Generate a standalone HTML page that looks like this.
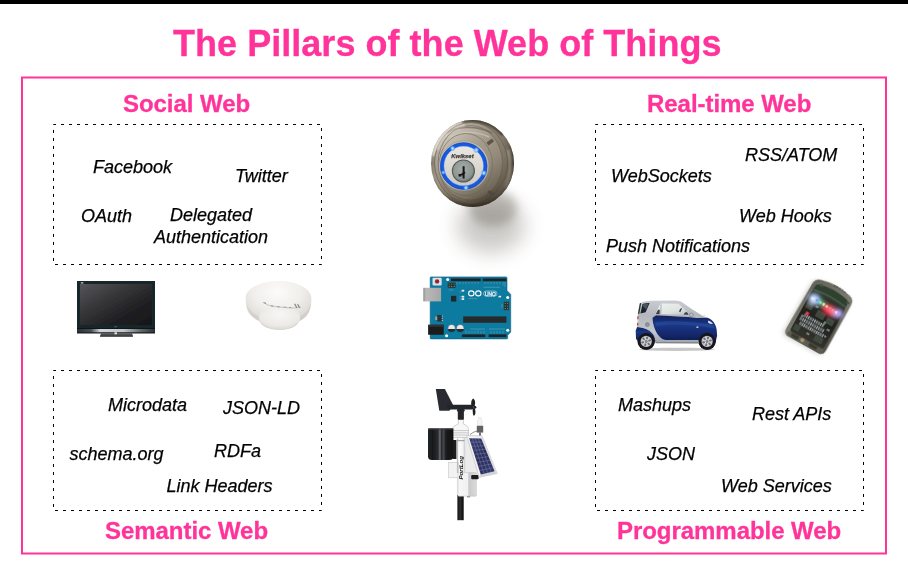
<!DOCTYPE html>
<html>
<head>
<meta charset="utf-8">
<title>The Pillars of the Web of Things</title>
<style>
html,body{margin:0;padding:0;background:#fff;}
body{width:908px;height:576px;position:relative;overflow:hidden;font-family:"Liberation Sans",sans-serif;}
#bar{position:absolute;left:0;top:0;width:908px;height:4px;background:#000;}
.pink{color:#ff3399;font-weight:bold;position:absolute;white-space:nowrap;-webkit-text-stroke:0.3px #ff3399;}
#title{font-size:36px;left:173px;top:23px;line-height:42px;letter-spacing:0.035px;}
.h{font-size:24px;line-height:28px;letter-spacing:-0.05px;}
.t{position:absolute;white-space:nowrap;font-style:italic;font-size:18px;line-height:20px;color:#000;-webkit-text-stroke:0.25px #000;}
svg{position:absolute;left:0;top:0;}
#txt{position:absolute;left:0;top:0;width:908px;height:576px;will-change:transform;opacity:0.999;}
</style>
</head>
<body>
<div id="bar"></div>
<svg id="frame" width="908" height="576" viewBox="0 0 908 576">
  <rect x="22" y="77.5" width="864" height="476" fill="none" stroke="#ff3399" stroke-width="2"/>
  <g fill="none" stroke="#000" stroke-width="1" stroke-dasharray="3 5" stroke-dashoffset="0.5">
    <rect x="53.5" y="124.5" width="268" height="140"/>
    <rect x="595.5" y="124.5" width="268" height="140"/>
    <rect x="53.5" y="370.5" width="268" height="140"/>
    <rect x="595.5" y="370.5" width="268" height="140"/>
  </g>
</svg>

<svg id="pics" width="908" height="576" viewBox="0 0 908 576">
<defs>
  <filter id="b04" x="-10%" y="-10%" width="120%" height="120%"><feGaussianBlur stdDeviation="0.45"/></filter>
  <filter id="b07" x="-10%" y="-10%" width="120%" height="120%"><feGaussianBlur stdDeviation="0.7"/></filter>
  <clipPath id="lkClip"><ellipse cx="472.5" cy="163.5" rx="41.5" ry="43.5"/></clipPath>
  <filter id="b12" x="-30%" y="-30%" width="160%" height="160%"><feGaussianBlur stdDeviation="1.3"/></filter>
  <filter id="b2" x="-30%" y="-30%" width="160%" height="160%"><feGaussianBlur stdDeviation="2"/></filter>
  <filter id="b10" x="-60%" y="-60%" width="220%" height="220%"><feGaussianBlur stdDeviation="10"/></filter>
  <filter id="b5" x="-50%" y="-50%" width="200%" height="200%"><feGaussianBlur stdDeviation="5"/></filter>
  <filter id="b8" x="-50%" y="-50%" width="200%" height="200%"><feGaussianBlur stdDeviation="8"/></filter>
  <linearGradient id="lkBody" x1="0" y1="0" x2="1" y2="0">
    <stop offset="0" stop-color="#7f7667"/><stop offset="0.1" stop-color="#aca393"/>
    <stop offset="0.3" stop-color="#9b9282"/><stop offset="0.6" stop-color="#a39a8a"/>
    <stop offset="0.82" stop-color="#857c6c"/><stop offset="1" stop-color="#453d30"/>
  </linearGradient>
  <linearGradient id="lkBody2" x1="0" y1="0" x2="0" y2="1">
    <stop offset="0" stop-color="#443c30" stop-opacity="0.9"/><stop offset="0.1" stop-color="#8b8272" stop-opacity="0.3"/>
    <stop offset="0.5" stop-color="#fff" stop-opacity="0"/><stop offset="0.85" stop-color="#6b6253" stop-opacity="0.35"/>
    <stop offset="1" stop-color="#2e281e" stop-opacity="0.95"/>
  </linearGradient>
  <linearGradient id="lkRing2" x1="0" y1="0" x2="1" y2="1">
    <stop offset="0" stop-color="#cfc8ba"/><stop offset="0.45" stop-color="#8f8676"/><stop offset="1" stop-color="#675e50"/>
  </linearGradient>
  <linearGradient id="lkRing3" x1="0" y1="0" x2="1" y2="1">
    <stop offset="0" stop-color="#dad4c8"/><stop offset="0.45" stop-color="#a39a8a"/><stop offset="1" stop-color="#786f60"/>
  </linearGradient>
  <linearGradient id="lkShade" x1="0.2" y1="0" x2="0.6" y2="1">
    <stop offset="0" stop-color="#fff" stop-opacity="0.1"/><stop offset="0.55" stop-color="#6b6253" stop-opacity="0"/>
    <stop offset="0.85" stop-color="#4a4234" stop-opacity="0.35"/><stop offset="1" stop-color="#2a241a" stop-opacity="0.7"/>
  </linearGradient>
  <linearGradient id="lkFace" x1="0" y1="0" x2="0" y2="1">
    <stop offset="0" stop-color="#ebe8e3"/><stop offset="1" stop-color="#cdc9c2"/>
  </linearGradient>
  <radialGradient id="lkCyl" cx="0.45" cy="0.4" r="0.6">
    <stop offset="0" stop-color="#a5ada9"/><stop offset="0.8" stop-color="#8d9591"/><stop offset="1" stop-color="#666d69"/>
  </radialGradient>
  <radialGradient id="glow" cx="0.5" cy="0.5" r="0.5">
    <stop offset="0" stop-color="#e6f6ff"/><stop offset="0.4" stop-color="#7cc4ff" stop-opacity="0.9"/><stop offset="1" stop-color="#2a7bff" stop-opacity="0"/>
  </radialGradient>

  <linearGradient id="tvScreen" x1="0" y1="0" x2="1" y2="1">
    <stop offset="0" stop-color="#55565a"/><stop offset="0.35" stop-color="#38383b"/><stop offset="0.7" stop-color="#1f1f22"/><stop offset="1" stop-color="#161618"/>
  </linearGradient>
  <linearGradient id="tvBar" x1="0" y1="0" x2="1" y2="0">
    <stop offset="0" stop-color="#2a2f33"/><stop offset="0.18" stop-color="#4a4f52"/><stop offset="0.3" stop-color="#d4d6d8"/>
    <stop offset="0.6" stop-color="#c2c4c6"/><stop offset="0.8" stop-color="#6a6e70"/><stop offset="1" stop-color="#2a2f33"/>
  </linearGradient>
  <radialGradient id="sdTop" cx="0.48" cy="0.22" r="0.8">
    <stop offset="0" stop-color="#fcfbfa"/><stop offset="0.45" stop-color="#f1efec"/><stop offset="0.75" stop-color="#e0dcd8"/><stop offset="1" stop-color="#cdc9c4"/>
  </radialGradient>
  <linearGradient id="sdSide" x1="0" y1="0" x2="1" y2="0">
    <stop offset="0" stop-color="#cfcbc6"/><stop offset="0.25" stop-color="#e4e1dd"/><stop offset="0.7" stop-color="#efedea"/><stop offset="1" stop-color="#dcd8d4"/>
  </linearGradient>
  <radialGradient id="sdDisc" cx="0.5" cy="0.35" r="0.7">
    <stop offset="0" stop-color="#f7f6f4"/><stop offset="0.7" stop-color="#eceae7"/><stop offset="1" stop-color="#d6d2ce"/>
  </radialGradient>

  <linearGradient id="usb" x1="0" y1="0" x2="1" y2="0">
    <stop offset="0" stop-color="#8e8e8e"/><stop offset="0.15" stop-color="#b9b9b9"/><stop offset="1" stop-color="#a6a6a6"/>
  </linearGradient>
  <linearGradient id="capG" x1="0" y1="0" x2="0" y2="1">
    <stop offset="0" stop-color="#f4f4f4"/><stop offset="0.6" stop-color="#e2e2e2"/><stop offset="0.62" stop-color="#2a2a2a"/><stop offset="1" stop-color="#2a2a2a"/>
  </linearGradient>

  <linearGradient id="carSilver" x1="0" y1="0" x2="0" y2="1">
    <stop offset="0" stop-color="#c9ccd1"/><stop offset="0.35" stop-color="#b4b8be"/><stop offset="0.75" stop-color="#c4c7cc"/><stop offset="1" stop-color="#9ea2a9"/>
  </linearGradient>
  <linearGradient id="carBlue" x1="0" y1="0" x2="0" y2="1">
    <stop offset="0" stop-color="#13245c"/><stop offset="0.35" stop-color="#1b3684"/><stop offset="0.6" stop-color="#162c74"/><stop offset="1" stop-color="#0c1a48"/>
  </linearGradient>
  <linearGradient id="carWin" x1="0" y1="0" x2="1" y2="1">
    <stop offset="0" stop-color="#eef1ef"/><stop offset="0.6" stop-color="#dfe4e1"/><stop offset="1" stop-color="#b9c0bf"/>
  </linearGradient>
  <radialGradient id="rim" cx="0.5" cy="0.5" r="0.5">
    <stop offset="0" stop-color="#8e9096"/><stop offset="0.22" stop-color="#9b9da3"/><stop offset="0.3" stop-color="#d9dbdf"/><stop offset="0.9" stop-color="#c3c5ca"/><stop offset="1" stop-color="#8d8f95"/>
  </radialGradient>

  <linearGradient id="phBody" x1="0" y1="0" x2="1" y2="1">
    <stop offset="0" stop-color="#5f6056"/><stop offset="0.5" stop-color="#7d7b70"/><stop offset="1" stop-color="#4b4a41"/>
  </linearGradient>
  <linearGradient id="phInner" x1="0" y1="0" x2="0" y2="1">
    <stop offset="0" stop-color="#2b3029"/><stop offset="0.5" stop-color="#1f211e"/><stop offset="1" stop-color="#35352e"/>
  </linearGradient>

  <linearGradient id="wsBucket" x1="0" y1="0" x2="1" y2="0">
    <stop offset="0" stop-color="#232427"/><stop offset="0.18" stop-color="#17181a"/><stop offset="0.4" stop-color="#2c2d31"/>
    <stop offset="0.47" stop-color="#6d7076"/><stop offset="0.53" stop-color="#2a2b2f"/><stop offset="0.62" stop-color="#45474c"/>
    <stop offset="0.7" stop-color="#1b1c1f"/><stop offset="1" stop-color="#0f1012"/>
  </linearGradient>
  <linearGradient id="wsWhite" x1="0" y1="0" x2="1" y2="0">
    <stop offset="0" stop-color="#e3e3e3"/><stop offset="0.3" stop-color="#fbfbfb"/><stop offset="0.7" stop-color="#f3f3f3"/><stop offset="1" stop-color="#cfcfcf"/>
  </linearGradient>
  <linearGradient id="wsBox" x1="0" y1="0" x2="1" y2="0">
    <stop offset="0" stop-color="#f7f7f7"/><stop offset="0.55" stop-color="#f0f0f0"/><stop offset="0.58" stop-color="#c9c9c9"/><stop offset="1" stop-color="#dadada"/>
  </linearGradient>
  <linearGradient id="wsPole" x1="0" y1="0" x2="1" y2="0">
    <stop offset="0" stop-color="#111"/><stop offset="0.4" stop-color="#2e2e30"/><stop offset="1" stop-color="#0c0c0c"/>
  </linearGradient>
  <linearGradient id="wsCell" x1="0" y1="0" x2="1" y2="1">
    <stop offset="0" stop-color="#3a3f6e"/><stop offset="0.5" stop-color="#2a2e5a"/><stop offset="1" stop-color="#353a70"/>
  </linearGradient>
</defs>

<!-- ============ door lock ============ -->
<g id="lock">
  <ellipse cx="491" cy="226" rx="34" ry="27" fill="#3a3228" opacity="0.25" filter="url(#b10)"/>
  <ellipse cx="493" cy="208" rx="24" ry="18" fill="#3a3228" opacity="0.26" filter="url(#b5)"/>
  <g filter="url(#b04)">
    <ellipse cx="472.5" cy="163.5" rx="41.5" ry="43.5" fill="url(#lkBody)"/>
    <ellipse cx="472.5" cy="163.5" rx="41.5" ry="43.5" fill="url(#lkBody2)"/>
    <!-- highlights / rims -->
    <g clip-path="url(#lkClip)"><g filter="url(#b12)">
      <path d="M433 156 C436 140 447 127 462 122" fill="none" stroke="#e9e4da" stroke-width="4" opacity="0.8"/>
      <path d="M448 120.5 C466 116 490 120 503 135" fill="none" stroke="#3a3226" stroke-width="3" opacity="0.85"/>
      <path d="M512 146 C517.5 162 516 182 507 195 C500 204 489 209 474 209" fill="none" stroke="#2a241a" stroke-width="3" opacity="0.85"/>
      <path d="M508 150 C511 162 510.5 176 505.5 188" fill="none" stroke="#b9b1a2" stroke-width="2.5" opacity="0.7"/>
      <path d="M433 180 C440 197 455 206 472 208" fill="none" stroke="#4f4739" stroke-width="2.5" opacity="0.6"/>
    </g></g>
    <!-- ring bands -->
    <ellipse cx="471.1" cy="163" rx="36.5" ry="40.4" fill="url(#lkRing2)"/>
    <ellipse cx="471.1" cy="163" rx="36.5" ry="40.4" fill="none" stroke="#5f5749" stroke-width="0.9" opacity="0.75"/>
    <ellipse cx="470.3" cy="162.8" rx="32.1" ry="37.3" fill="url(#lkRing3)"/>
    <ellipse cx="470.3" cy="162.8" rx="32.1" ry="37.3" fill="none" stroke="#6a6152" stroke-width="0.9" opacity="0.75"/>
    <!-- top dark/light alternation -->
    <g clip-path="url(#lkClip)" filter="url(#b07)">
      <path d="M447 133 C455 126.5 476 124.5 492 133" fill="none" stroke="#6f6657" stroke-width="1.6" opacity="0.8"/>
      <path d="M449 138 C457 131.5 475 130 489 137" fill="none" stroke="#d2ccbf" stroke-width="1.4" opacity="0.7"/>
      <path d="M452 198 C462 203 480 203 492 195" fill="none" stroke="#6f6657" stroke-width="1.4" opacity="0.7"/>
    </g>
    <ellipse cx="465.8" cy="164.5" rx="26.6" ry="31" fill="#b1a999"/>
    <ellipse cx="465.8" cy="164.5" rx="26.6" ry="31" fill="url(#lkRing3)" opacity="0.8"/>
    <ellipse cx="465.8" cy="164.5" rx="26.6" ry="31" fill="none" stroke="#736a5b" stroke-width="0.9" opacity="0.75"/>
    <circle cx="463.9" cy="166" r="25" fill="#cbc5b9"/>
    <circle cx="463.9" cy="166" r="25" fill="none" stroke="#8f8677" stroke-width="0.6" opacity="0.7"/>
    <ellipse cx="472.5" cy="163.5" rx="41.5" ry="43.5" fill="url(#lkShade)"/>
    <g clip-path="url(#lkClip)"><path d="M437 150 C441 137 451 128 465 125" fill="none" stroke="#f1ede4" stroke-width="3" opacity="0.55" filter="url(#b12)"/></g>
    <!-- dark marks on right of body -->
    <path d="M486.5 142.5 l5.5 -4 l2 3 l-5.5 4z M489 190 l5.5 3 l-1.8 3 l-5.5 -3z" fill="#4f473a" opacity="0.8"/>
    <!-- blue ring -->
    <circle cx="463.7" cy="166" r="21.6" fill="url(#lkFace)" stroke="#1658de" stroke-width="3.8"/>
    <circle cx="463.7" cy="166" r="23.4" fill="none" stroke="#0b3596" stroke-width="0.7" opacity="0.6"/>
    <circle cx="463.7" cy="166" r="19.9" fill="none" stroke="#6aa4ff" stroke-width="0.5" opacity="0.7"/>
    <circle cx="452.5" cy="148.3" r="3.2" fill="url(#glow)"/>
    <circle cx="476.3" cy="150" r="3.4" fill="url(#glow)"/>
    <circle cx="483.8" cy="173" r="3.4" fill="url(#glow)"/>
    <circle cx="466" cy="187.8" r="3.2" fill="url(#glow)"/>
    <circle cx="443.2" cy="172.5" r="2.6" fill="url(#glow)" opacity="0.8"/>
    <!-- cylinder -->
    <circle cx="463.4" cy="171" r="11" fill="url(#lkCyl)" stroke="#555b57" stroke-width="1.1"/>
    <path d="M462.6 166.3 h2 v5.2 l0.9 1.2 l-0.9 1.3 v4.6 h-2 v-3 l-1.2 -0.6 v1.6 h-2.8 v-2.6 h2.4 l1.6 -1.3z" fill="#141618"/>
    <text x="451.3" y="157.6" font-family="Liberation Sans, sans-serif" font-size="5.6" font-weight="bold" font-style="italic" fill="#3f3d3a" stroke="#3f3d3a" stroke-width="0.25" textLength="22.3" lengthAdjust="spacingAndGlyphs">Kwikset</text>
  </g>
</g>

<!-- ============ TV ============ -->
<g id="tv" filter="url(#b04)">
  <rect x="77" y="281" width="78" height="52.3" fill="#14252b"/>
  <rect x="80" y="284" width="72" height="41" fill="url(#tvScreen)"/>
  <rect x="77" y="328.8" width="78" height="3.8" fill="url(#tvBar)"/>
  <rect x="77" y="328" width="78" height="0.9" fill="#0c1418"/>
  <rect x="77" y="332.4" width="78" height="0.9" fill="#1a1f22"/>
  <path d="M101 333.3 h31 l1 3.2 h-33z" fill="#4d5052"/>
  <rect x="100" y="335.6" width="33" height="1" fill="#2c2e30"/>
  <rect x="114.5" y="332.3" width="2.4" height="2" fill="#e8e8e8"/>
  <rect x="80.8" y="282.3" width="2.6" height="1.2" fill="#cfd6d8"/>
  <rect x="114.3" y="326.3" width="2.6" height="0.9" fill="#5a6a70"/>
</g>

<!-- ============ smoke detector ============ -->
<g id="smoke" filter="url(#b04)">
  <path d="M245.7 297.5 C246 289 260 281.1 278.5 281.1 C297 281.1 311 289 311.3 297.5 C311.5 303 311 306 310.2 309 C309 313 307 315.5 305.8 316.7 C303 319 301 320 299.2 321 C297 327 289 329.8 279.6 329.8 C270 329.8 262 327 259.3 321 C257 320 254 318.5 252.2 316.7 C249 314 247.3 311 246.7 307.9 C246 304 245.7 300 245.7 297.5z" fill="url(#sdTop)"/>
  <!-- lower slope shading -->
  <path d="M246.2 303 C247 311 253 318 260 321.5 C258 314 266 307 279.6 306.5 C293 307 301 314 299.2 321.5 C306 318 310.5 311 311 303 C309 311 302 316 296 318 L263 318 C256 316 249 311 246.2 303z" fill="#c9c5c0" opacity="0.5" filter="url(#b07)"/>
  <!-- lower disc -->
  <ellipse cx="279.6" cy="317.8" rx="20.6" ry="11.8" fill="url(#sdDisc)"/>
  <!-- vents -->
  <path d="M263.5 302.4 l2.6 1.1" stroke="#8b8884" stroke-width="1.1" fill="none"/>
  <path d="M270.8 305.8 l2.4 0.4 M277 306.6 l2.6 0.3 M283.8 307.2 l2.6 0.2 M289.2 307.5 l2 0.1" stroke="#7d7a77" stroke-width="1" fill="none"/>
  <path d="M266 304.6 C272 306 280 307.3 288 307.8 C292 308 297 308 301 307.2" fill="none" stroke="#bcb8b4" stroke-width="0.8"/>
  <path d="M294.6 303.8 l2.2 4 M297.6 304.2 l2 3.6" stroke="#7f7c79" stroke-width="1.1" fill="none"/>
</g>

<!-- ============ Arduino ============ -->
<g id="arduino" filter="url(#b04)">
  <path d="M431 276.9 H506 Q507 276.9 507 277.9 V290.5 L510.7 294.4 V332 L507.7 335.3 V338 Q507.7 338.9 506.7 338.9 H431 Q430.2 338.9 430.2 338 V277.7 Q430.2 276.9 431 276.9z" fill="#107a9f"/>
  <path d="M431 276.9 H506 Q507 276.9 507 277.9 V290.5 L510.7 294.4 V332 L507.7 335.3 V338 Q507.7 338.9 506.7 338.9 H431 Q430.2 338.9 430.2 338 V277.7 Q430.2 276.9 431 276.9z" fill="none" stroke="#155f7c" stroke-width="0.6"/>
  <!-- reset button -->
  <rect x="432.5" y="277.8" width="9.2" height="7.6" rx="1" fill="#d3e3ea"/>
  <circle cx="437.1" cy="281.4" r="2.2" fill="#a81f26"/>
  <!-- usb -->
  <rect x="423.3" y="287.8" width="17.8" height="13.6" fill="url(#usb)"/>
  <!-- power jack -->
  <rect x="428.1" y="324.8" width="15.6" height="10" rx="0.6" fill="#1d1d1f"/>
  <rect x="428.1" y="324.8" width="15.6" height="2" fill="#333336"/>
  <!-- headers -->
  <rect x="451" y="278.5" width="29.7" height="2.7" fill="#1c2226"/>
  <rect x="482.6" y="278.5" width="23.8" height="2.7" fill="#1c2226"/>
  <rect x="461.9" y="334.4" width="23.4" height="2.7" fill="#1c2226"/>
  <rect x="488.6" y="334.4" width="17.8" height="2.7" fill="#1c2226"/>
  <!-- icsp -->
  <rect x="447.7" y="282.6" width="7.9" height="5.2" fill="#23343a"/>
  <g fill="#9a8a44"><circle cx="449.2" cy="284" r="0.6"/><circle cx="451.7" cy="284" r="0.6"/><circle cx="454.2" cy="284" r="0.6"/><circle cx="449.2" cy="286.4" r="0.6"/><circle cx="451.7" cy="286.4" r="0.6"/><circle cx="454.2" cy="286.4" r="0.6"/></g>
  <rect x="503.8" y="301.8" width="5.2" height="8.4" fill="#23343a"/>
  <g fill="#9a8a44"><circle cx="505.2" cy="303.3" r="0.6"/><circle cx="507.6" cy="303.3" r="0.6"/><circle cx="505.2" cy="306" r="0.6"/><circle cx="507.6" cy="306" r="0.6"/><circle cx="505.2" cy="308.7" r="0.6"/><circle cx="507.6" cy="308.7" r="0.6"/></g>
  <!-- chips -->
  <rect x="451" y="295.8" width="5.3" height="5.8" fill="#22282c"/>
  <rect x="463.2" y="316.4" width="43.2" height="6.4" fill="#26292c"/>
  <rect x="437.2" y="315" width="4.6" height="6.6" fill="#2b3136"/>
  <rect x="435.2" y="316.6" width="2" height="3.4" fill="#9aa3a6"/>
  <g fill="#b9c9cf"><rect x="441.8" y="315.6" width="1.2" height="0.9"/><rect x="441.8" y="317.8" width="1.2" height="0.9"/><rect x="441.8" y="320" width="1.2" height="0.9"/></g>
  <!-- capacitors -->
  <circle cx="451.6" cy="328.3" r="3.8" fill="url(#capG)" stroke="#0f4d66" stroke-width="0.5"/>
  <circle cx="460.2" cy="328.3" r="3.8" fill="url(#capG)" stroke="#0f4d66" stroke-width="0.5"/>
  <!-- mount holes -->
  <g fill="#fff"><circle cx="447.7" cy="279.6" r="1.5"/><circle cx="507.7" cy="297.4" r="1.5"/><circle cx="507.7" cy="330.3" r="1.5"/><circle cx="446.6" cy="335.8" r="1.5"/></g>
  <!-- logo -->
  <g fill="none" stroke="#fff">
    <ellipse cx="471.3" cy="293.4" rx="2.7" ry="2.5" stroke-width="1.1"/>
    <ellipse cx="478.3" cy="293.4" rx="2.7" ry="2.5" stroke-width="1.1"/>
    <rect x="483.6" y="291" width="13.4" height="5.2" rx="2.6" stroke-width="0.5" opacity="0.9"/>
  </g>
  <text x="484.9" y="295.5" font-family="Liberation Sans, sans-serif" font-size="4.8" fill="none" stroke="#fff" stroke-width="0.35" textLength="10.8" lengthAdjust="spacingAndGlyphs">UNO</text>
  <!-- LEDs + silk -->
  <g fill="#e6f0f2"><rect x="461.6" y="289.8" width="2.6" height="1.8"/><rect x="461.6" y="295.8" width="2.6" height="1.8"/><rect x="461.6" y="298.2" width="2.6" height="1.8"/><rect x="498.5" y="295.8" width="2.6" height="1.6"/></g>
  <g stroke="#7fb7cb" stroke-width="0.5" fill="none" opacity="0.85">
    <path d="M483.5 287.3 H500 M459.5 292 h2 M459.5 296.6 h2 M459.5 299 h2"/>
    <path d="M457 282 v2.6 M460 282 v2 M463 282 v2 M466 282 v2 M469 282 v2 M472 282 v2 M475 282 v2 M478 282 v2 M485 282 v2 M488 282 v2 M491 282 v2 M494 282 v2 M497 282 v2 M500 282 v2 M503 282 v3.5 M505 282 v5"/>
    <path d="M466 330 v3.5 M469 331 v2.5 M472 331 v2.5 M475 331 v2.5 M478 330 v3.5 M481 331 v2.5 M484 331 v2.5 M491 331 v2.5 M494 331 v2.5 M497 331 v2.5 M500 331 v2.5 M503 331 v2.5"/>
    <path d="M470 329 H485 M489 329 H505"/>
    <path d="M468.3 298.6 h9 M449 290 h4.5 M502 304 v4"/>
  </g>
</g>

<!-- ============ smart car ============ -->
<g id="car">
  <ellipse cx="677" cy="349.3" rx="38" ry="1.6" fill="#9a9a9a" opacity="0.55" filter="url(#b07)"/>
  <g filter="url(#b04)">
  <!-- wheel arches dark -->
  <circle cx="646.2" cy="341" r="8.8" fill="#15171c"/>
  <circle cx="707.1" cy="341" r="8.8" fill="#15171c"/>
  <path d="M639.9 302.9 C643.5 301.5 647.7 300.9 650.8 300.8 L674.8 300.5 C677.9 300.6 680.5 301.3 682.1 302.3 L692.5 309.6 L702.9 316.1 L707.6 318.0 L696.7 318.2 L688.4 317.1 L656.1 315.4 L652.4 317.8 C652.7 324.2 655.0 331.5 658.7 335.7 C661.3 338.8 663.3 339.9 666.0 340.1 L697.7 340.1 L699.3 343.0 L655.5 342.8 L654.0 335.7 C650.8 330.5 645.6 327.9 637.1 327.1 C636.9 323.2 637.3 318.0 637.8 314.8 C638.3 309.6 638.9 305.5 639.9 302.9Z" fill="url(#carSilver)"/>
  <path d="M656.1 315.3 L688.4 317.1 L696.7 318.0 L707.6 317.8 C710.8 318.8 713.4 321.3 714.9 324.2 C716.0 326.3 716.5 328.4 716.7 330.0 L717.1 335.7 L716.1 340.1 L715.7 343.0 L714.6 339.9 C713.4 335.7 710.2 333.6 707.1 333.6 C703.5 333.6 700.0 335.7 698.8 340.1 L666.0 340.1 C663.3 339.9 661.3 338.8 658.7 335.7 C655.0 331.5 652.7 324.2 652.4 317.8 Z" fill="url(#carBlue)"/>
  <path d="M637.1 327.1 C645.6 327.9 650.8 330.5 654.0 335.7 L655.5 341.4 L654.8 341.4 C653.4 335.7 650.3 333.4 646.2 333.4 C642.0 333.4 638.9 335.7 637.5 340.9 L636.0 338.8 L635.7 330.5 Z" fill="url(#carBlue)"/>
  <!-- door highlight -->
  <path d="M655 322 C670 320.5 695 321.5 713 325 L714.5 328.5 C697 324.5 672 323.5 655.8 326z" fill="#2f52ac" opacity="0.5" filter="url(#b07)"/>
  <!-- windows -->
  <path d="M655.5 314.0 L660.2 304.1 C661.3 303.7 663.3 303.6 665.4 303.6 L678.5 303.8 L689.2 314.0 L688.4 314.8 Z" fill="url(#carWin)"/>
  <path d="M640.4 313.4 L642.5 304.1 C644.6 303.4 647.2 303.1 649.6 303.1 L645.6 312.3 Z" fill="#1c232d"/>
  <path d="M642.3 305.5 L643 304.3 L648.6 303.6 L646 309.5z" fill="#59626e" opacity="0.8"/>
  <path d="M639.9 303.2 L641.2 303 L639.4 313.5 L637.9 314.2z" fill="#2a2f38"/>
  <!-- B pillar + interior -->
  <path d="M660.6 304.3 L661.6 304.2 L661.3 314.3 L660 314.3z" fill="#aeb3b8"/>
  <path d="M679 311.5 q1.2 -3 2.4 -3.4 l0.6 0.6 q-1 1 -1.6 3.6z M683.5 314.5 q1 -2.6 3 -2.6 l1.6 1.6 l0.2 1.2z M655.8 314 L658.2 309.5 L659.8 310 L659.6 314.2z" fill="#3b4046"/>
  <!-- mirror -->
  <path d="M689.3 315 q0.2 -2 2.2 -2 q1.8 0.2 1.8 2.4 q-0.6 1.6 -2.4 1.4 q-1.4 -0.2 -1.6 -1.8z" fill="#b9bdc3" stroke="#55595f" stroke-width="0.4"/>
  <!-- headlight, marker, handle -->
  <path d="M708.2 320.6 q3 0.6 4.8 3.4 q-2.6 0.4 -5 -1.6z" fill="#dfe6ee"/>
  <rect x="696.3" y="326.6" width="2.2" height="1.2" rx="0.5" fill="#e6e9ee"/>
  <path d="M702 315.4 l2.6 -1 l1.2 1.2 l-1.6 1z" fill="#e8e6d8"/>
  <!-- fuel cap -->
  <circle cx="647.3" cy="324.6" r="2" fill="#8f949b" stroke="#6b7078" stroke-width="0.5"/>
  <!-- tail lights -->
  <rect x="637.2" y="316.5" width="1.5" height="2.2" fill="#c4473f"/>
  <rect x="637" y="320" width="1.5" height="2" fill="#e9e3df"/>
  <rect x="636.9" y="323.2" width="1.5" height="2.2" fill="#c4473f"/>
  <!-- sill shadow -->
  <path d="M655.5 342.2 L699 342.4 L698.8 343.4 L655.6 343.2z" fill="#6c7077"/>
  <circle cx="646.2" cy="341.4" r="8.3" fill="#18181b"/>
  <circle cx="646.2" cy="341.4" r="5.7" fill="url(#rim)"/><ellipse cx="648.7" cy="343.9" rx="1.0" ry="1.5" transform="rotate(135 648.7 343.9)" fill="#6f7178"/><ellipse cx="645.3" cy="344.8" rx="1.0" ry="1.5" transform="rotate(195 645.3 344.8)" fill="#6f7178"/><ellipse cx="642.8" cy="342.3" rx="1.0" ry="1.5" transform="rotate(255 642.8 342.3)" fill="#6f7178"/><ellipse cx="643.7" cy="338.9" rx="1.0" ry="1.5" transform="rotate(315 643.7 338.9)" fill="#6f7178"/><ellipse cx="647.1" cy="338.0" rx="1.0" ry="1.5" transform="rotate(375 647.1 338.0)" fill="#6f7178"/><ellipse cx="649.6" cy="340.5" rx="1.0" ry="1.5" transform="rotate(435 649.6 340.5)" fill="#6f7178"/>
  <circle cx="646.2" cy="341.4" r="1.3" fill="#85878d"/>
  <circle cx="707.1" cy="341.4" r="8.3" fill="#18181b"/>
  <circle cx="707.1" cy="341.4" r="5.7" fill="url(#rim)"/><ellipse cx="709.6" cy="343.9" rx="1.0" ry="1.5" transform="rotate(135 709.6 343.9)" fill="#6f7178"/><ellipse cx="706.2" cy="344.8" rx="1.0" ry="1.5" transform="rotate(195 706.2 344.8)" fill="#6f7178"/><ellipse cx="703.7" cy="342.3" rx="1.0" ry="1.5" transform="rotate(255 703.7 342.3)" fill="#6f7178"/><ellipse cx="704.6" cy="338.9" rx="1.0" ry="1.5" transform="rotate(315 704.6 338.9)" fill="#6f7178"/><ellipse cx="708.0" cy="338.0" rx="1.0" ry="1.5" transform="rotate(375 708.0 338.0)" fill="#6f7178"/><ellipse cx="710.5" cy="340.5" rx="1.0" ry="1.5" transform="rotate(435 710.5 340.5)" fill="#6f7178"/>
  <circle cx="707.1" cy="341.4" r="1.3" fill="#85878d"/>
  </g>
</g>

<!-- ============ LED gadget ============ -->
<g id="gadget" transform="translate(818.85 317) rotate(29)">
  <path d="M-22 -26 Q-22 -32 -16 -33.5 Q0 -38.5 17 -33.5 Q22.5 -32 22.5 -26 L22.5 26 Q22.5 32 16.5 32 L-17 32 Q-23 32 -23 26Z" fill="#8a8a86" opacity="0.35" filter="url(#b2)" transform="translate(-1.5 1.5)"/>
  <g filter="url(#b07)">
    <path d="M-22 -26 Q-22 -32 -16 -33.5 Q0 -38.5 17 -33.5 Q22.5 -32 22.5 -26 L22.5 26 Q22.5 32 16.5 32 L-17 32 Q-23 32 -23 26Z" fill="url(#phBody)"/>
    <path d="M-18.5 -24 Q-18.5 -28 -14.5 -29 Q0 -32.6 15.5 -29 Q19 -28 19 -24 L19 -18 L-18.5 -18Z" fill="#2f3f2f"/>
    <path d="M-18 -21.5 Q0 -25 19 -21.5" fill="none" stroke="#59665a" stroke-width="1.6" opacity="0.7"/>
    <rect x="-19" y="-20.5" width="38.5" height="47.5" rx="4" fill="url(#phInner)"/>
    <rect x="-20" y="26.2" width="41" height="5" rx="2" fill="#5c5b50"/>
    <!-- bottom details -->
    <rect x="-15.5" y="26.8" width="8" height="3.6" rx="0.8" fill="#3a3a33"/>
    <rect x="4.5" y="26.8" width="9" height="3.6" rx="0.8" fill="#3a3a33"/>
    <circle cx="-3.2" cy="28.3" r="2.3" fill="#a89674" stroke="#5a5140" stroke-width="0.5"/>
    <!-- screws + grill -->
    <circle cx="-13" cy="-29.4" r="1.3" fill="#2e3a2c" stroke="#7d8576" stroke-width="0.5"/>
    <circle cx="19" cy="-26.5" r="1.3" fill="#2e3a2c" stroke="#7d8576" stroke-width="0.5"/>
    <path d="M-2 -34.6 h1.4 M1 -34.9 h1.4 M4 -34.9 h1.4 M7 -34.7 h1.4 M10 -34.3 h1.4" stroke="#3a3b33" stroke-width="1.1" fill="none"/>
    <!-- pcb clutter -->
    <g fill="#3f4a3c"><rect x="-17" y="-8" width="7" height="6"/><rect x="-4" y="-6" width="9" height="7"/><rect x="8" y="-4" width="8" height="6"/><rect x="-17" y="17" width="6" height="6"/><rect x="6" y="17" width="9" height="6"/></g>
    <g fill="#777c78"><rect x="-8" y="-9" width="3" height="2"/><rect x="7" y="1" width="2" height="3"/><rect x="-16" y="6" width="2" height="2"/><rect x="13" y="6" width="3" height="2"/><rect x="-3" y="19" width="3" height="2"/><rect x="14" y="13" width="2" height="2"/></g>
    <!-- heat sink -->
    <path d="M-13.0 3.7 v3.6 M-10.7 3.7 v3.6 M-8.4 3.7 v3.6 M-6.1 3.7 v3.6 M-3.8 3.7 v3.6 M-1.5 3.7 v3.6 M0.8 3.7 v3.6 M3.1 3.7 v3.6 M5.4 3.7 v3.6 M7.7 3.7 v3.6 M-15.0 8.2 v3.6 M-12.7 8.2 v3.6 M-10.4 8.2 v3.6 M-8.1 8.2 v3.6 M-5.8 8.2 v3.6 M-3.5 8.2 v3.6 M-1.2 8.2 v3.6 M1.1 8.2 v3.6 M3.4 8.2 v3.6 M5.7 8.2 v3.6 M8.0 8.2 v3.6 M10.3 8.2 v3.6 M-13.0 12.7 v3.6 M-10.7 12.7 v3.6 M-8.4 12.7 v3.6 M-6.1 12.7 v3.6 M-3.8 12.7 v3.6 M-1.5 12.7 v3.6 M0.8 12.7 v3.6 M3.1 12.7 v3.6 M5.4 12.7 v3.6 M7.7 12.7 v3.6 M10.0 12.7 v3.6 M12.3 12.7 v3.6 " stroke="#aeb4b6" stroke-width="1.1" fill="none"/>
    <!-- red led square -->
    <rect x="-13.5" y="1" width="3.2" height="3.2" fill="#e23a44"/>
  </g>
  <!-- glows -->
  <g filter="url(#b2)">
    <ellipse cx="-12.5" cy="-13.5" rx="6.5" ry="5.5" fill="#a8caff" opacity="1"/>
    <ellipse cx="-13" cy="-13.5" rx="3" ry="2.6" fill="#f0f6ff" opacity="0.9"/>
    <ellipse cx="-13.5" cy="-9" rx="3" ry="3" fill="#d8d0f0" opacity="0.6"/>
    <ellipse cx="-4" cy="-13.5" rx="3.5" ry="3" fill="#7fe8b0" opacity="0.7"/>
    <ellipse cx="6.5" cy="-11" rx="8.5" ry="5" fill="#ff2848" opacity="1"/>
    <ellipse cx="7" cy="-12.5" rx="6" ry="2" fill="#ff9aa8" opacity="0.8"/>
    <ellipse cx="15.5" cy="-12.5" rx="4.5" ry="4.5" fill="#b09aff" opacity="1"/>
    <ellipse cx="15.5" cy="-12.5" rx="2" ry="2" fill="#f4eeff" opacity="0.9"/>
    <ellipse cx="12" cy="-9" rx="3" ry="2.5" fill="#e8c8e8" opacity="0.5"/>
  </g>
  <g filter="url(#b04)"><circle cx="-14.3" cy="-13.2" r="1.4" fill="#dff0ff"/><circle cx="-9.7" cy="-13.6" r="1.3" fill="#5aa2ff"/><circle cx="-5.6" cy="-13.5" r="1.3" fill="#7dffb0"/><circle cx="-1.9" cy="-13.4" r="1.3" fill="#d8ffb0"/><circle cx="1.8" cy="-13.1" r="1.3" fill="#ffd0a0"/><circle cx="5.4" cy="-13.0" r="1.3" fill="#ff7a7a"/><circle cx="9.1" cy="-12.8" r="1.3" fill="#ff8a9a"/><circle cx="12.9" cy="-12.5" r="1.3" fill="#ffe0f0"/><circle cx="15.4" cy="-12.7" r="1.3" fill="#a9a0ff"/></g>
</g>

<!-- ============ weather station ============ -->
<g id="weather" filter="url(#b04)">
  <!-- black pole -->
  <rect x="457.4" y="492" width="6.3" height="28.2" fill="url(#wsPole)"/>
  <!-- mast + white structures -->
  <rect x="456.9" y="437" width="8.2" height="58" fill="url(#wsWhite)"/>
  <path d="M464.8 436 L468.2 436 L480.6 476.5 L464.8 476.5Z" fill="#ececec" stroke="#c8c8c8" stroke-width="0.4"/>
  <rect x="448.7" y="462.5" width="9.6" height="15.3" fill="#f2f2f2" stroke="#c4c4c4" stroke-width="0.6"/>
  <rect x="458" y="472.6" width="18.4" height="23.6" rx="0.8" fill="url(#wsBox)" stroke="#bdbdbd" stroke-width="0.5"/>
  <rect x="467" y="496.2" width="3" height="1.2" fill="#8a8a8a"/>
  <rect x="471.2" y="475" width="7.4" height="4.2" rx="1" fill="#1c1c1e"/>
  <!-- mast inner shadow line -->
  <rect x="456.9" y="439" width="1" height="34" fill="#b9b9b9"/>
  <path d="M457.4 440 h7 v1.2 h-7z" fill="#6f6f6f" opacity="0.6"/>
  <!-- radiation shield -->
  <path d="M458.3 419.5 H463.4 V424 C466 425 468.3 426.8 468.6 428.8 V437.4 H452.4 V428.8 C452.7 426.8 455.5 425 458.3 424Z" fill="#f7f7f7" stroke="#b4b4b4" stroke-width="0.6"/>
  <path d="M452.4 430.6 H468.6 M452.4 432.8 H468.6 M452.4 435 H468.6" stroke="#b5b5b5" stroke-width="0.7" fill="none"/>
  <!-- bucket -->
  <path d="M428 429.6 Q428 428.4 429.4 428.4 H452 Q453.4 428.4 453.4 429.6 V456.5 Q453.4 460 449 460 H432 Q428 460 428 456.5Z" fill="url(#wsBucket)"/>
  <rect x="428" y="428.4" width="25.4" height="1.2" fill="#3a3b3f"/>
  <rect x="452.8" y="440" width="3.6" height="19" fill="#1a1b1d"/>
  <!-- small sensor -->
  <path d="M478.6 417.4 h2.2 v1.6 q1.2 0.6 1.2 2 v5 h-4.6 v-5 q0 -1.4 1.2 -2z" fill="#f4f4f4" stroke="#cfcfcf" stroke-width="0.4"/>
  <rect x="476.8" y="425.8" width="6.4" height="6.8" fill="#5f6266"/>
  <path d="M470 434.5 q4 -3 7 -3.5" stroke="#444" stroke-width="0.6" fill="none"/>
  <rect x="479.2" y="432.6" width="1.6" height="3.4" fill="#4a4c50"/>
  <!-- wind vane -->
  <path d="M435.8 389 H444.9 L453.2 405.2 L449.4 410.8 H439.3Z" fill="#2a2c31"/>
  <rect x="446.5" y="404.8" width="27.5" height="4.6" rx="2.3" fill="#24262a"/>
  <rect x="457.8" y="408.5" width="6.1" height="11.2" rx="0.8" fill="#26282c"/>
  <rect x="456.9" y="409.2" width="7.9" height="2.4" rx="1" fill="#24262a"/>
  <!-- propeller -->
  <path d="M471.6 406.5 C470.6 403 471.2 400 473.2 398.6 C475.2 399.6 475.6 403 474.6 406 Z" fill="#1f2124"/>
  <path d="M472.4 408 C473 411 472.4 414 473.6 415.8 C475.6 415.2 476 412 474.8 408.4Z" fill="#1f2124"/>
  <path d="M474 405.6 q2.4 0.4 2.6 1.8 q-0.4 1.4 -2.8 1.6z" fill="#1f2124"/>
  <!-- solar panel -->
  <path d="M466.5 435.5 L482 435.8 L497.2 473.5 L479.2 477.3Z" fill="#f1f1f1" stroke="#bcbcbc" stroke-width="0.6"/>
  <path d="M480.8 474.6 L494.6 471.2 L497.2 473.5 L479.2 477.3Z" fill="#d2d2d2"/>
  <path d="M481.2 438.4 L482 435.8 L497.2 473.5 L494.6 471.2Z" fill="#dedede"/>
  <path d="M469.2 438.2 L481.2 438.4 L494.6 471.2 L480.8 474.6Z" fill="url(#wsCell)"/>
  <path d="M472.2 438.2 L484.2 473.8 M475.2 438.3 L487.7 472.9 M478.2 438.3 L491.2 472.1 M470.5 442.2 L482.7 442.0 M471.8 446.3 L484.2 445.7 M473.1 450.3 L485.7 449.3 M474.4 454.4 L487.2 453.0 M475.6 458.4 L488.6 456.6 M476.9 462.5 L490.1 460.3 M478.2 466.5 L491.6 463.9 M479.5 470.6 L493.1 467.6 " stroke="#8f95c4" stroke-width="0.45" fill="none" opacity="0.85"/>
  <!-- PortLog text -->
  <text transform="translate(463.1 479.6) rotate(-90)" font-family="Liberation Sans, sans-serif" font-size="5.6" font-weight="bold" font-style="italic" fill="#1a1a1a" textLength="23.6" lengthAdjust="spacingAndGlyphs">PortLog</text>
</g>
</svg>
<div id="txt">
<div id="title" class="pink">The Pillars of the Web of Things</div>
<div class="pink h" style="left:123px;top:90px;">Social Web</div>
<div class="pink h" style="left:647px;top:90px;">Real-time Web</div>
<div class="pink h" style="left:105px;top:517px;">Semantic Web</div>
<div class="pink h" style="left:617px;top:517px;">Programmable Web</div>

<div class="t" style="left:93px;top:157px;">Facebook</div>
<div class="t" style="left:235px;top:166px;">Twitter</div>
<div class="t" style="left:81px;top:206px;">OAuth</div>
<div class="t" style="left:170px;top:205px;">Delegated</div>
<div class="t" style="left:154px;top:227px;">Authentication</div>

<div class="t" style="left:745px;top:145px;">RSS/ATOM</div>
<div class="t" style="left:611px;top:166px;">WebSockets</div>
<div class="t" style="left:739px;top:206px;">Web Hooks</div>
<div class="t" style="left:606px;top:236px;">Push Notifications</div>

<div class="t" style="left:108px;top:395px;">Microdata</div>
<div class="t" style="left:223px;top:398px;">JSON-LD</div>
<div class="t" style="left:69.5px;top:444px;">schema.org</div>
<div class="t" style="left:214px;top:441px;">RDFa</div>
<div class="t" style="left:166.5px;top:476px;">Link Headers</div>

<div class="t" style="left:618px;top:395px;">Mashups</div>
<div class="t" style="left:752px;top:404px;">Rest APIs</div>
<div class="t" style="left:647px;top:444px;">JSON</div>
<div class="t" style="left:721px;top:476px;">Web Services</div>
</div>
</body>
</html>
